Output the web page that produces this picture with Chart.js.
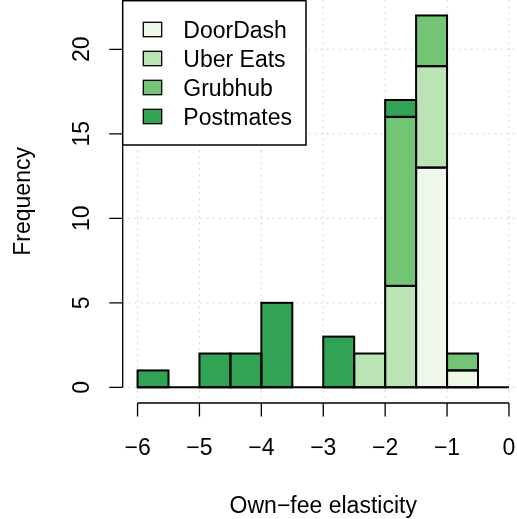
<!DOCTYPE html>
<html>
<head>
<meta charset="utf-8">
<script src="https://cdn.jsdelivr.net/npm/chart.js@4"></script>
<style>
  html, body { margin: 0; padding: 0; background: #fff; }
  #wrap { width: 517px; height: 519px; }
</style>
</head>
<body>
<div id="wrap"><canvas id="hist" width="517" height="519"></canvas></div>
<script>
// histogram bins, width 0.5, from -6 to 0
const binCenters = [-5.75, -5.25, -4.75, -4.25, -3.75, -3.25, -2.75, -2.25, -1.75, -1.25, -0.75, -0.25];
const doorDash  = [0, 0, 0, 0, 0, 0, 0, 0,  0, 13, 1, 0];
const uberEats  = [0, 0, 0, 0, 0, 0, 0, 2,  6,  6, 0, 0];
const grubhub   = [0, 0, 0, 0, 0, 0, 0, 0, 10,  3, 1, 0];
const postmates = [1, 0, 2, 2, 5, 0, 3, 0,  1,  0, 0, 0];

const seriesNames = ["DoorDash", "Uber Eats", "Grubhub", "Postmates"];
const seriesColors = ["#EDF8E9", "#BAE4B3", "#74C476", "#31A354"];

const xTicks = [-6, -5, -4, -3, -2, -1, 0];
const xTickLabels = ["\u22126", "\u22125", "\u22124", "\u22123", "\u22122", "\u22121", "0"];
const yTicks = [0, 5, 10, 15, 20];
const yTickLabels = ["0", "5", "10", "15", "20"];

const FONT = '23px "Liberation Sans", Arial, Helvetica, sans-serif';

const toPoints = (vals) => binCenters.map((x, i) => ({ x, y: vals[i] === 0 ? null : vals[i] }));

const seriesValues = [doorDash, uberEats, grubhub, postmates];
const datasets = seriesNames.map((name, i) => ({
  label: name,
  data: toPoints(seriesValues[i]),
  backgroundColor: seriesColors[i],
  borderWidth: 0,
  categoryPercentage: 1.0,
  barPercentage: 1.0,
}));

// R-style base graphics: dotted grid, outlined bars, detached axes, boxed legend
const rStylePlugin = {
  id: "rStylePlugin",
  beforeDatasetsDraw(chart) {
    const { ctx, chartArea: a, scales } = chart;
    const x = scales.x, y = scales.y;
    ctx.save();
    ctx.strokeStyle = "#d3d3d3";
    ctx.lineWidth = 1.2;
    ctx.setLineDash([1.5, 4.5]);
    xTicks.forEach((v) => {
      const px = x.getPixelForValue(v);
      ctx.beginPath(); ctx.moveTo(px, a.top); ctx.lineTo(px, a.bottom); ctx.stroke();
    });
    yTicks.forEach((v) => {
      const py = y.getPixelForValue(v);
      ctx.beginPath(); ctx.moveTo(a.left, py); ctx.lineTo(a.right, py); ctx.stroke();
    });
    ctx.restore();
  },
  afterDatasetsDraw(chart) {
    const { ctx, chartArea: a, scales } = chart;
    const x = scales.x, y = scales.y;
    ctx.save();

    // bar outlines
    ctx.strokeStyle = "#000";
    ctx.lineWidth = 2;
    chart.data.datasets.forEach((ds, i) => {
      const meta = chart.getDatasetMeta(i);
      meta.data.forEach((bar, j) => {
        if (ds.data[j].y === null) return;
        const p = bar.getProps(["x", "y", "base", "width"], true);
        ctx.strokeRect(p.x - p.width / 2, Math.min(p.y, p.base), p.width, Math.abs(p.base - p.y));
      });
    });

    // zero line under the whole histogram (empty bins)
    const y0 = y.getPixelForValue(0);
    ctx.beginPath();
    ctx.moveTo(x.getPixelForValue(-6), y0);
    ctx.lineTo(x.getPixelForValue(0), y0);
    ctx.stroke();

    // axes
    ctx.lineWidth = 1.3;
    const tickLen = 13.5;
    const xAxisY = a.bottom + 0.8;
    ctx.beginPath();
    ctx.moveTo(x.getPixelForValue(-6), xAxisY);
    ctx.lineTo(x.getPixelForValue(0), xAxisY);
    xTicks.forEach((v) => {
      const px = x.getPixelForValue(v);
      ctx.moveTo(px, xAxisY); ctx.lineTo(px, xAxisY + tickLen);
    });
    const yAxisX = a.left;
    ctx.moveTo(yAxisX, y.getPixelForValue(0));
    ctx.lineTo(yAxisX, y.getPixelForValue(20));
    yTicks.forEach((v) => {
      const py = y.getPixelForValue(v);
      ctx.moveTo(yAxisX, py); ctx.lineTo(yAxisX - tickLen, py);
    });
    ctx.stroke();

    // tick labels
    ctx.fillStyle = "#000";
    ctx.font = FONT;
    ctx.textAlign = "center";
    ctx.textBaseline = "alphabetic";
    xTicks.forEach((v, i) => {
      ctx.fillText(xTickLabels[i], x.getPixelForValue(v), 455);
    });
    yTicks.forEach((v, i) => {
      ctx.save();
      ctx.translate(88.5, y.getPixelForValue(v));
      ctx.rotate(-Math.PI / 2);
      ctx.fillText(yTickLabels[i], 0, 0);
      ctx.restore();
    });

    // axis titles
    const plotMidX = (x.getPixelForValue(-6.24) + x.getPixelForValue(0.24)) / 2;
    ctx.fillText("Own\u2212fee elasticity", plotMidX, 513);
    ctx.save();
    ctx.translate(30, (a.top + a.bottom) / 2);
    ctx.rotate(-Math.PI / 2);
    ctx.fillText("Frequency", 0, 0);
    ctx.restore();

    // legend
    ctx.fillStyle = "#fff";
    ctx.fillRect(122.7, 0.7, 183.3, 144.3);
    ctx.lineWidth = 1.5;
    ctx.strokeRect(122.7, 0.7, 183.3, 144.3);
    ctx.textAlign = "left";
    seriesNames.forEach((name, i) => {
      const cy = 29.5 + 29 * i;
      ctx.fillStyle = seriesColors[i];
      ctx.fillRect(143.3, cy - 7.2, 18.4, 14.4);
      ctx.lineWidth = 1.3;
      ctx.strokeRect(143.3, cy - 7.2, 18.4, 14.4);
      ctx.fillStyle = "#000";
      ctx.fillText(name, 183.3, cy + 8.2);
    });

    ctx.restore();
  },
};

new Chart(document.getElementById("hist").getContext("2d"), {
  type: "bar",
  data: { datasets },
  options: {
    responsive: false,
    animation: false,
    layout: { padding: { left: 122.7, right: 0, top: 0.6, bottom: 116.8 } },
    scales: {
      x: { type: "linear", min: -6.24, max: 0.13, offset: false, stacked: true, display: false },
      y: { type: "linear", min: -0.88, max: 22.88, stacked: true, display: false },
    },
    plugins: {
      legend: { display: false },
      tooltip: { enabled: false },
    },
  },
  plugins: [rStylePlugin],
});
</script>
</body>
</html>
